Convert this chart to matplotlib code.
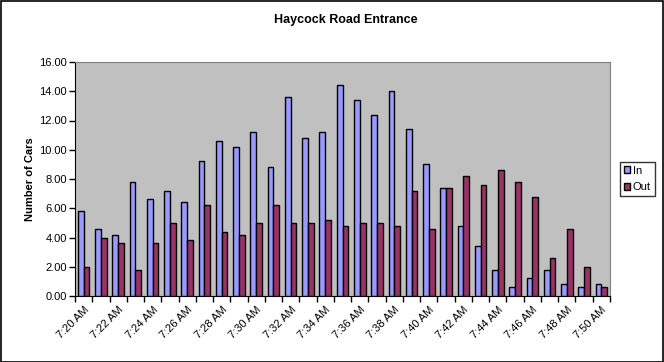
import matplotlib
matplotlib.use("Agg")
import matplotlib.pyplot as plt
import numpy as np
from matplotlib.patches import Rectangle

categories = ["7:20 AM", "7:21 AM", "7:22 AM", "7:23 AM", "7:24 AM", "7:25 AM", "7:26 AM",
              "7:27 AM", "7:28 AM", "7:29 AM", "7:30 AM", "7:31 AM", "7:32 AM", "7:33 AM",
              "7:34 AM", "7:35 AM", "7:36 AM", "7:37 AM", "7:38 AM", "7:39 AM", "7:40 AM",
              "7:41 AM", "7:42 AM", "7:43 AM", "7:44 AM", "7:45 AM", "7:46 AM", "7:47 AM",
              "7:48 AM", "7:49 AM", "7:50 AM"]
cars_in = [5.8, 4.6, 4.2, 7.8, 6.6, 7.2, 6.4, 9.2, 10.6, 10.2, 11.2, 8.8, 13.6, 10.8, 11.2,
           14.4, 13.4, 12.4, 14.0, 11.4, 9.0, 7.4, 4.8, 3.4, 1.8, 0.6, 1.2, 1.8, 0.8, 0.6, 0.8]
cars_out = [2.0, 4.0, 3.6, 1.8, 3.6, 5.0, 3.8, 6.2, 4.4, 4.2, 5.0, 6.2, 5.0, 5.0, 5.2,
            4.8, 5.0, 5.0, 4.8, 7.2, 4.6, 7.4, 8.2, 7.6, 8.6, 7.8, 6.8, 2.6, 4.6, 2.0, 0.6]

plt.rcParams['font.family'] = ['Liberation Sans', 'DejaVu Sans']

W, H = 664, 362
fig = plt.figure(figsize=(W / 100, H / 100), dpi=100)
fig.patch.set_facecolor('white')
fig.patches.append(Rectangle((0.5 / W, 0.5 / H), 1 - 1.5 / W, 1 - 1.5 / H, transform=fig.transFigure,
                             fill=False, edgecolor='black', linewidth=1.2))

x0, x1, y0, y1 = 75, 610, 62, 296
ax = fig.add_axes([x0 / W, 1 - y1 / H, (x1 - x0) / W, (y1 - y0) / H])
ax.set_facecolor('#C0C0C0')

x = np.arange(len(categories))
bw = 1 / 3
ax.bar(x - bw / 2, cars_in, width=bw, color='#9999FF', edgecolor='black', linewidth=1.0, label='In', zorder=3)
ax.bar(x + bw / 2, cars_out, width=bw, color='#993366', edgecolor='black', linewidth=1.0, label='Out', zorder=3)

ax.set_xlim(-0.5, len(categories) - 0.5)
ax.set_ylim(0, 16)
ax.set_yticks(np.arange(0, 16.01, 2))
ax.set_yticklabels([f"{v:.2f}" for v in np.arange(0, 16.01, 2)], fontsize=8)
ax.tick_params(axis='y', direction='out', length=4, width=1, pad=2)

ax.set_xticks(np.arange(-0.5, len(categories), 1), minor=True)
ax.set_xticks(x[::2])
ax.set_xticklabels(categories[::2], rotation=45, ha='right', rotation_mode='anchor', fontsize=8)
ax.tick_params(axis='x', which='major', length=0, pad=6)
ax.tick_params(axis='x', which='minor', direction='out', length=4, width=1)

for s in ['top', 'right']:
    ax.spines[s].set_color('#808080')
for s in ['left', 'bottom']:
    ax.spines[s].set_color('black')

ax.set_ylabel("Number of Cars", fontsize=8, fontweight='bold', labelpad=3)
fig.text(0.5 * (x0 + x1) / W + 0.005, 1 - 20 / H, "Haycock Road Entrance", ha='center', va='center',
         fontsize=9, fontweight='bold')

leg = ax.legend(loc='center left', bbox_to_anchor=(1.018, 0.5), fontsize=8, frameon=True,
                fancybox=False, edgecolor='black', handlelength=0.55, handleheight=0.55,
                handletextpad=0.3, borderpad=0.35, labelspacing=0.6, borderaxespad=0)
leg.get_frame().set_linewidth(1.0)

fig.savefig("out.png", dpi=100)
